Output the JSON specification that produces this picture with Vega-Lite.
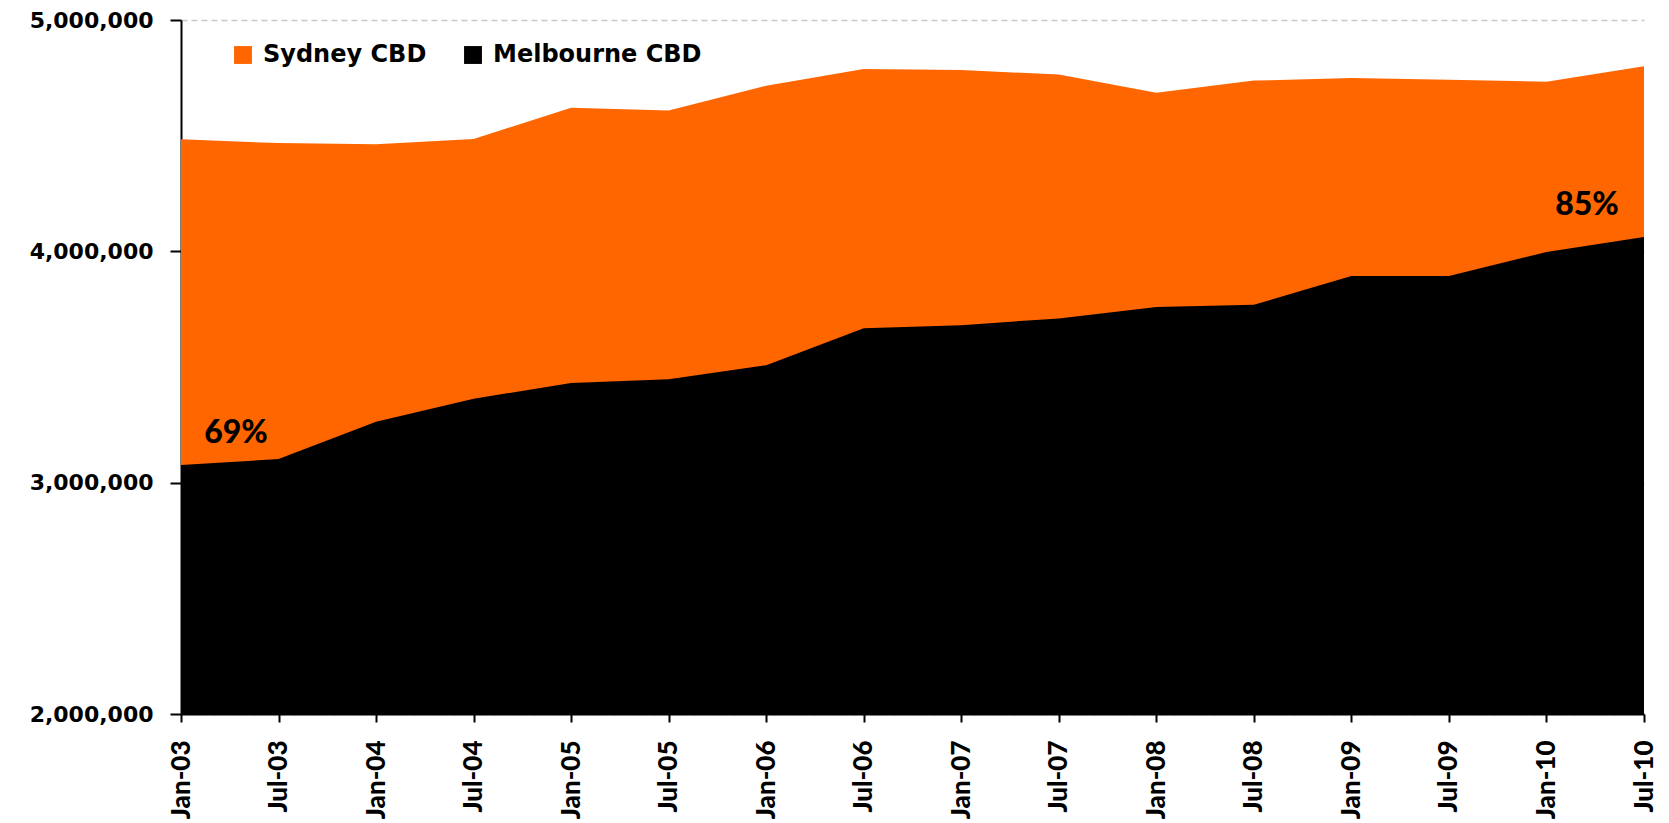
{
  "$schema": "https://vega.github.io/schema/vega-lite/v6.json",
  "width": 1463,
  "height": 694,
  "autosize": {"type": "none"},
  "padding": {"left": 181, "top": 20, "right": 25, "bottom": 109},
  "background": "white",
  "config": {
    "view": {"stroke": null},
    "axis": {"labelColor": "black", "domainColor": "black", "tickColor": "black", "title": null}
  },
  "datasets": {
    "main": [
      {"month": "Jan-03", "city": "Sydney CBD", "value": 4484000},
      {"month": "Jul-03", "city": "Sydney CBD", "value": 4468000},
      {"month": "Jan-04", "city": "Sydney CBD", "value": 4463000},
      {"month": "Jul-04", "city": "Sydney CBD", "value": 4486000},
      {"month": "Jan-05", "city": "Sydney CBD", "value": 4621000},
      {"month": "Jul-05", "city": "Sydney CBD", "value": 4609000},
      {"month": "Jan-06", "city": "Sydney CBD", "value": 4716000},
      {"month": "Jul-06", "city": "Sydney CBD", "value": 4788000},
      {"month": "Jan-07", "city": "Sydney CBD", "value": 4784000},
      {"month": "Jul-07", "city": "Sydney CBD", "value": 4764000},
      {"month": "Jan-08", "city": "Sydney CBD", "value": 4686000},
      {"month": "Jul-08", "city": "Sydney CBD", "value": 4738000},
      {"month": "Jan-09", "city": "Sydney CBD", "value": 4749000},
      {"month": "Jul-09", "city": "Sydney CBD", "value": 4742000},
      {"month": "Jan-10", "city": "Sydney CBD", "value": 4733000},
      {"month": "Jul-10", "city": "Sydney CBD", "value": 4800000},
      {"month": "Jan-03", "city": "Melbourne CBD", "value": 3076000},
      {"month": "Jul-03", "city": "Melbourne CBD", "value": 3102000},
      {"month": "Jan-04", "city": "Melbourne CBD", "value": 3263000},
      {"month": "Jul-04", "city": "Melbourne CBD", "value": 3363000},
      {"month": "Jan-05", "city": "Melbourne CBD", "value": 3431000},
      {"month": "Jul-05", "city": "Melbourne CBD", "value": 3447000},
      {"month": "Jan-06", "city": "Melbourne CBD", "value": 3508000},
      {"month": "Jul-06", "city": "Melbourne CBD", "value": 3667000},
      {"month": "Jan-07", "city": "Melbourne CBD", "value": 3681000},
      {"month": "Jul-07", "city": "Melbourne CBD", "value": 3710000},
      {"month": "Jan-08", "city": "Melbourne CBD", "value": 3759000},
      {"month": "Jul-08", "city": "Melbourne CBD", "value": 3769000},
      {"month": "Jan-09", "city": "Melbourne CBD", "value": 3893000},
      {"month": "Jul-09", "city": "Melbourne CBD", "value": 3893000},
      {"month": "Jan-10", "city": "Melbourne CBD", "value": 3997000},
      {"month": "Jul-10", "city": "Melbourne CBD", "value": 4062000}
    ],
    "notes": [
      {"month": "Jan-03", "label": "69%", "value": 3076000},
      {"month": "Jul-10", "label": "85%", "value": 4062000}
    ]
  },
  "encoding": {
    "x": {
      "field": "month", "type": "ordinal", "sort": null,
      "scale": {"type": "point", "padding": 0},
      "axis": {
        "labelAngle": -90, "labelFont": "Lato", "labelFontWeight": 900, "labelFontSize": 26,
        "labelPadding": 18, "tickSize": 8, "tickWidth": 2, "domainWidth": 2, "grid": false
      }
    }
  },
  "layer": [
    {
      "data": {"name": "main"},
      "transform": [{"filter": "datum.city === 'Sydney CBD'"}],
      "mark": {"type": "area", "opacity": 1},
      "encoding": {
        "y": {
          "field": "value", "type": "quantitative",
          "scale": {"domain": [2000000, 5000000], "zero": false, "nice": false},
          "axis": {
            "values": [2000000, 3000000, 4000000, 5000000], "format": ",d",
            "labelFont": "DejaVu Sans", "labelFontWeight": "bold", "labelFontSize": 22,
            "labelPadding": 17, "tickSize": 11, "tickWidth": 2, "domainWidth": 2,
            "grid": true, "gridColor": "#c8c8c8", "gridDash": [6, 4], "gridWidth": 1.5
          }
        },
        "y2": {"datum": 2000000},
        "color": {
          "field": "city", "type": "nominal",
          "scale": {"domain": ["Sydney CBD", "Melbourne CBD"], "range": ["#FF6600", "#000000"]},
          "legend": {
            "title": null, "orient": "none", "legendX": 50, "legendY": 23, "direction": "horizontal",
            "symbolType": "square", "symbolSize": 320, "symbolStrokeWidth": 0, "symbolOpacity": 1,
            "labelFont": "DejaVu Sans", "labelFontWeight": "bold", "labelFontSize": 24,
            "labelColor": "black", "labelLimit": 400, "labelOffset": 8, "columnPadding": 34
          }
        }
      }
    },
    {
      "data": {"name": "main"},
      "transform": [{"filter": "datum.city === 'Melbourne CBD'"}],
      "mark": {"type": "area", "opacity": 1},
      "encoding": {
        "y": {"field": "value", "type": "quantitative"},
        "y2": {"datum": 2000000},
        "color": {"field": "city", "type": "nominal"}
      }
    },
    {
      "data": {"name": "notes"},
      "transform": [{"filter": "datum.label === '69%'"}],
      "mark": {"type": "text", "font": "Lato", "fontWeight": 900, "fontSize": 32, "color": "black", "align": "center", "baseline": "alphabetic", "dx": 55, "dy": -22},
      "encoding": {
        "y": {"field": "value", "type": "quantitative"},
        "text": {"field": "label"}
      }
    },
    {
      "data": {"name": "notes"},
      "transform": [{"filter": "datum.label === '85%'"}],
      "mark": {"type": "text", "font": "Lato", "fontWeight": 900, "fontSize": 32, "color": "black", "align": "center", "baseline": "alphabetic", "dx": -57, "dy": -22},
      "encoding": {
        "y": {"field": "value", "type": "quantitative"},
        "text": {"field": "label"}
      }
    }
  ]
}
